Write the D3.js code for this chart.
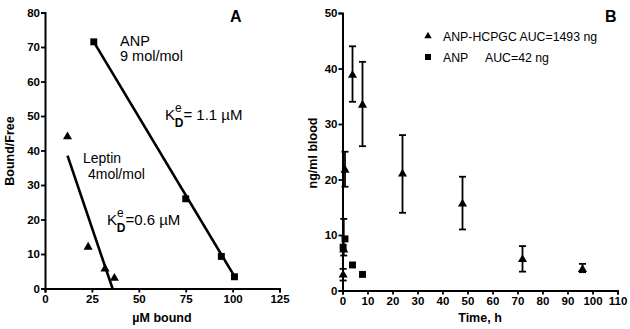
<!DOCTYPE html>
<html><head><meta charset="utf-8">
<script src="https://cdn.jsdelivr.net/npm/d3@7"></script>
<style>body{margin:0;background:#fff}svg{display:block}text{font-family:"Liberation Sans",Arial,sans-serif}</style>
</head><body><svg id="c" width="630" height="329"></svg>
<script>
// Panel A: Scatchard plot
const anpBound = [26, 75, 94, 101];
const anpBF = [71.5, 26, 9.3, 3.4];
const leptinBound = [12, 23, 32, 37];
const leptinBF = [44, 12, 5.7, 3];
const anpFit = [[26, 71.5], [101, 3.5]];
const leptinFit = [[12, 38.5], [36, 0]];
const aXTicks = [0, 25, 50, 75, 100, 125];
const aYTicks = [0, 10, 20, 30, 40, 50, 60, 70, 80];

// Panel B: pharmacokinetics
const hcpgcTime = [0.25, 0.5, 1, 4, 8, 24, 48, 72, 96];
const hcpgcVal = [2.8, 7.3, 21.7, 38.8, 33.4, 21, 15.6, 5.6, 3.8];
const hcpgcLow = [1.8, 6.3, 18.7, 34, 26, 14, 11, 3.4, 3.3];
const hcpgcHigh = [3.9, 12.9, 25, 44, 41.2, 28, 20.5, 8, 4.8];
const anpTime = [0.25, 1, 4, 8];
const anpVal = [7.8, 9.3, 4.6, 2.9];
const bXTicks = [0, 10, 20, 30, 40, 50, 60, 70, 80, 90, 100, 110];
const bYTicks = [0, 10, 20, 30, 40, 50];

const svg = d3.select("#c");

function axes(g, x, y, xt, yt) {
  const xa = g.append("g").attr("transform", `translate(0,${y.range()[0]})`)
    .call(d3.axisBottom(x).tickValues(xt).tickSize(4).tickPadding(2).tickFormat(d3.format("d")));
  const ya = g.append("g").attr("transform", `translate(${x.range()[0]},0)`)
    .call(d3.axisLeft(y).tickValues(yt).tickSize(4).tickPadding(1).tickFormat(d3.format("d")));
  [xa, ya].forEach(a => {
    a.select(".domain").attr("stroke", "#000").attr("stroke-width", 2);
    a.selectAll(".tick line").attr("stroke", "#000").attr("stroke-width", 1.8);
    a.selectAll("text").attr("font-size", 11.5).attr("font-weight", "bold").attr("fill", "#000");
  });
}
const tri = d3.symbol().type(d3.symbolTriangle).size(36);
const sq = d3.symbol().type(d3.symbolSquare).size(48);

// ---------- Panel A ----------
const xA = d3.scaleLinear().domain([0, 125]).range([45, 279.5]);
const yA = d3.scaleLinear().domain([0, 80]).range([288.5, 12.5]);
const gA = svg.append("g");
axes(gA, xA, yA, aXTicks, aYTicks);
const line = (x, y) => d3.line().x(d => x(d[0])).y(d => y(d[1]));
gA.append("path").datum(anpFit).attr("d", line(xA, yA)).attr("stroke", "#000").attr("stroke-width", 2.6).attr("fill", "none");
gA.append("path").datum(leptinFit).attr("d", line(xA, yA)).attr("stroke", "#000").attr("stroke-width", 2.6).attr("fill", "none");
gA.selectAll(".as").data(anpBound).enter().append("path")
  .attr("d", sq).attr("transform", (d, i) => `translate(${xA(d)},${yA(anpBF[i])})`).attr("fill", "#000");
gA.selectAll(".lt").data(leptinBound).enter().append("path")
  .attr("d", tri).attr("transform", (d, i) => `translate(${xA(d)},${yA(leptinBF[i])})`).attr("fill", "#000");

function txt(g, x, y, s, size, bold, anchor) {
  return g.append("text").attr("x", x).attr("y", y).attr("font-size", size)
    .attr("font-weight", bold ? "bold" : "normal").attr("text-anchor", anchor || "start").attr("fill", "#000").text(s);
}
txt(gA, 120, 45.5, "ANP", 14.5);
txt(gA, 120, 61, "9 mol/mol", 14.5);
txt(gA, 83, 162.5, "Leptin", 14);
txt(gA, 88, 179, "4mol/mol", 14);
function kd(g, x, y, rest) {
  const t = g.append("text").attr("x", x).attr("y", y).attr("font-size", 15).attr("fill", "#000");
  t.append("tspan").text("K");
  t.append("tspan").attr("font-size", 12).attr("dy", -8).text("e");
  t.append("tspan").attr("font-size", 12).attr("font-weight", "bold").attr("dx", -7).attr("dy", 15).text("D");
  t.append("tspan").attr("dy", -7).text(rest);
}
kd(gA, 165, 120, "= 1.1 µM");
kd(gA, 107, 225, "=0.6 µM");
txt(gA, 230, 22, "A", 16, true);
txt(gA, 162, 322, "µM bound", 12.5, true, "middle");
txt(gA, 0, 0, "Bound/Free", 12.5, true, "middle").attr("transform", "translate(14,151) rotate(-90)");

// ---------- Panel B ----------
const xB = d3.scaleLinear().domain([0, 110]).range([342.5, 617.5]);
const yB = d3.scaleLinear().domain([0, 50]).range([290.5, 13]);
const gB = svg.append("g");
axes(gB, xB, yB, bXTicks, bYTicks);
const eb = gB.selectAll(".eb").data(hcpgcTime).enter().append("g").attr("stroke", "#000").attr("stroke-width", 1.8);
eb.append("line").attr("x1", d => xB(d)).attr("x2", d => xB(d)).attr("y1", (d, i) => yB(hcpgcLow[i])).attr("y2", (d, i) => yB(hcpgcHigh[i]));
eb.append("line").attr("x1", d => xB(d) - 3.5).attr("x2", d => xB(d) + 3.5).attr("y1", (d, i) => yB(hcpgcLow[i])).attr("y2", (d, i) => yB(hcpgcLow[i]));
eb.append("line").attr("x1", d => xB(d) - 3.5).attr("x2", d => xB(d) + 3.5).attr("y1", (d, i) => yB(hcpgcHigh[i])).attr("y2", (d, i) => yB(hcpgcHigh[i]));
gB.selectAll(".ht").data(hcpgcTime).enter().append("path")
  .attr("d", tri).attr("transform", (d, i) => `translate(${xB(d)},${yB(hcpgcVal[i])})`).attr("fill", "#000");
gB.selectAll(".bs").data(anpTime).enter().append("path")
  .attr("d", sq).attr("transform", (d, i) => `translate(${xB(d)},${yB(anpVal[i])})`).attr("fill", "#000");

svg.append("path").attr("d", d3.symbol().type(d3.symbolTriangle).size(24)).attr("transform", "translate(428,36)").attr("fill", "#000");
svg.append("path").attr("d", d3.symbol().type(d3.symbolSquare).size(36)).attr("transform", "translate(428,57)").attr("fill", "#000");
txt(gB, 443, 40.5, "ANP-HCPGC AUC=1493 ng", 12.3);
txt(gB, 443, 62, "ANP", 12.3);
txt(gB, 485, 62, "AUC=42 ng", 12.3);
txt(gB, 605, 22, "B", 16, true);
txt(gB, 480, 322, "Time, h", 12.5, true, "middle");
txt(gB, 0, 0, "ng/ml blood", 12.5, true, "middle").attr("transform", "translate(317,153) rotate(-90)");
</script></body></html>
